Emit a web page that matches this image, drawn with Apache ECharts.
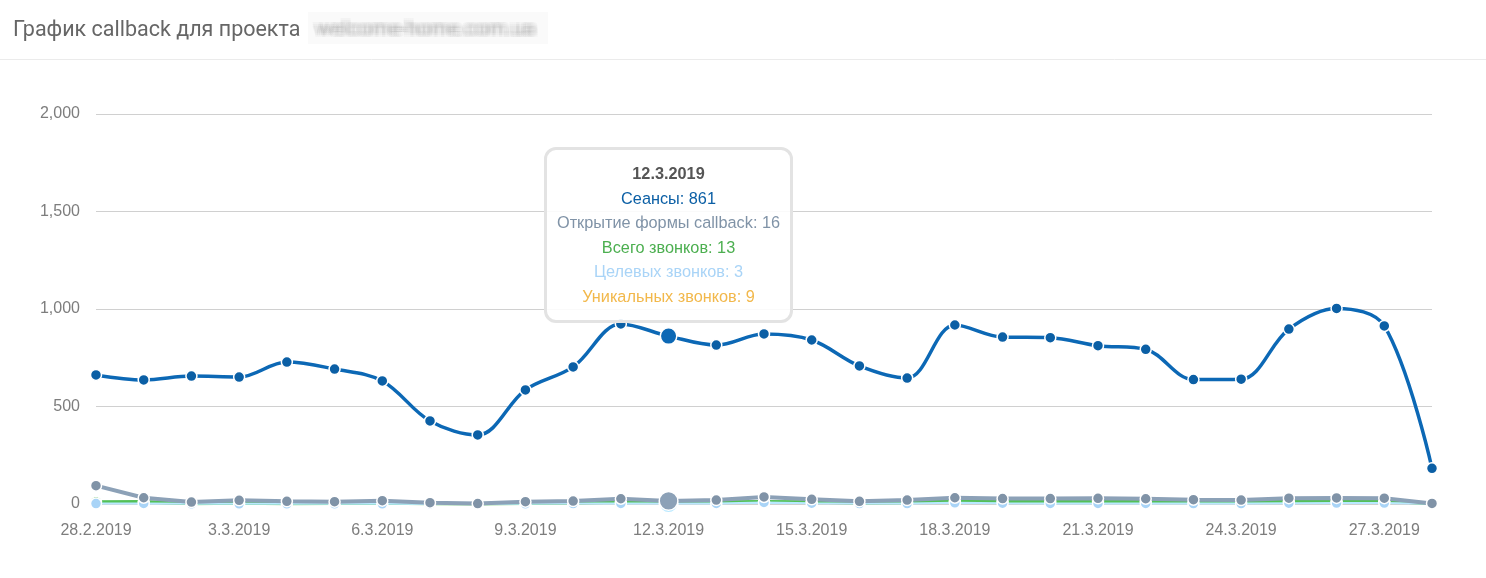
<!DOCTYPE html>
<html>
<head>
<meta charset="utf-8">
<script src="https://cdn.jsdelivr.net/npm/echarts@6/dist/echarts.min.js"></script>
<style>
html,body{margin:0;padding:0;background:#fff;}
#chart{width:1486px;height:578px;}
</style>
</head>
<body>
<div id="chart"></div>
<script>
const categories = ['28.2.2019','1.3.2019','2.3.2019','3.3.2019','4.3.2019','5.3.2019','6.3.2019','7.3.2019','8.3.2019','9.3.2019','10.3.2019','11.3.2019','12.3.2019','13.3.2019','14.3.2019','15.3.2019','16.3.2019','17.3.2019','18.3.2019','19.3.2019','20.3.2019','21.3.2019','22.3.2019','23.3.2019','24.3.2019','25.3.2019','26.3.2019','27.3.2019','28.3.2019'];
const sessions = [662,636,656,651,728,692,631,426,354,585,703,923,861,815,872,841,708,646,918,856,853,812,793,638,640,897,1003,913,183];
const formOpens = [94,32,10,19,14,12,17,7,2,12,15,27,16,20,36,24,14,20,32,28,28,29,27,22,20,30,31,30,3];
const totalCalls = [10,12,3,5,3,4,5,2,1,4,6,10,13,10,12,10,6,8,15,17,17,16,15,12,9,14,16,16,2];
const targetCalls = [2,3,1,1,1,1,1,0,0,1,2,3,3,3,8,4,2,2,6,4,3,3,3,2,2,4,5,5,1];
const uniqueCalls = [8,9,2,4,2,3,4,1,1,3,5,8,9,8,11,8,5,6,11,12,11,11,10,8,6,9,11,11,2];
const yTicks = [0,500,1000,1500,2000];
const titleMain = 'График callback для проекта';
const titleBlur = 'welcome-home.com.ua';

const C = {
  sessions:'#0b5fa5', forms:'#8093a7', total:'#4caf50', target:'#a9d4f7', unique:'#f2b84b'
};

const chart = echarts.init(document.getElementById('chart'), null, {renderer:'canvas'});

function smallSeries(name, data, color, z, lineWidth){
  return {
    name, type:'line', data, z,
    symbol:'circle', symbolSize:11, showSymbol:true,
    lineStyle:{color, width:lineWidth},
    itemStyle:{color, borderColor:'#fff', borderWidth:1.5},
    areaStyle:{color, opacity:0.95},
    emphasis:{scale:1.7, lineStyle:{width:lineWidth}},
    animation:false
  };
}

// soft "blurred" domain text built from several faint, slightly shifted copies
const blurGraphics = [{
  type:'rect', silent:true, z:-1,
  shape:{x:308, y:12, width:240, height:32},
  style:{fill:'rgba(250,250,250,1)'}
}];
[-4,-2,0,2,4].forEach(dx=>{
  [-2,0,2].forEach(dy=>{
    blurGraphics.push({
      type:'text', silent:true, x:316 + dx, y:30 + dy,
      style:{
        text:titleBlur, font:'21px Roboto', fill:'rgba(165,165,165,0.08)',
        verticalAlign:'middle', textVerticalAlign:'middle',
        shadowColor:'rgba(170,170,170,0.6)', shadowBlur:10
      }
    });
  });
});

chart.setOption({
  animation:false,
  title:{
    left:8, top:15,
    text:titleMain,
    textStyle:{fontFamily:'Roboto', fontSize:21.5, fontWeight:'normal', color:'#666'}
  },
  graphic:[
    {
      type:'line', shape:{x1:0, y1:59.5, x2:1486, y2:59.5},
      style:{stroke:'#ebebeb', lineWidth:1}, silent:true
    }
  ].concat(blurGraphics),
  grid:{left:96, right:54, top:114, bottom:74, containLabel:false},
  tooltip:{
    trigger:'axis',
    axisPointer:{type:'line', lineStyle:{opacity:0}},
    backgroundColor:'rgba(255,255,255,0.88)',
    borderColor:'#e3e3e3', borderWidth:3, borderRadius:12,
    padding:[11,10,11,10],
    extraCssText:'box-shadow:none;',
    textStyle:{fontFamily:'Liberation Sans, Arial', fontSize:16},
    position:function(point, params, dom, rect, size){
      return [point[0] - size.contentSize[0]/2, 147];
    },
    formatter:function(params){
      let html = '<div style="text-align:center;line-height:24.6px;font-family:\'Liberation Sans\',Arial;font-size:16.3px;">';
      html += '<div style="font-weight:bold;color:#555;">' + params[0].axisValue + '</div>';
      params.forEach(p=>{
        html += '<div style="color:' + p.color + ';">' + p.seriesName + ': ' + p.value + '</div>';
      });
      html += '</div>';
      return html;
    }
  },
  xAxis:{
    type:'category', data:categories, boundaryGap:false,
    axisLine:{show:false}, axisTick:{show:false},
    axisLabel:{interval:2, color:'#7d7d7d', fontFamily:'Liberation Sans, Arial', fontSize:16, margin:19},
    splitLine:{show:false}
  },
  yAxis:{
    type:'value', min:yTicks[0], max:yTicks[yTicks.length-1], interval:yTicks[1]-yTicks[0],
    axisLine:{show:false}, axisTick:{show:false},
    axisLabel:{color:'#7d7d7d', fontFamily:'Liberation Sans, Arial', fontSize:16, margin:16,
      formatter:v=>v.toLocaleString('en-US')},
    splitLine:{lineStyle:{color:'#d0d0d0', width:1}}
  },
  series:[
    {
      name:'Сеансы', type:'line', data:sessions, z:10,
      smooth:0.35, symbol:'circle', symbolSize:11,
      lineStyle:{color:C.sessions, width:3.5},
      itemStyle:{color:C.sessions, borderColor:'#fff', borderWidth:1.5},
      emphasis:{scale:1.5, lineStyle:{width:3.5}}
    },
    {
      name:'Открытие формы callback', type:'line', data:formOpens, z:8,
      symbol:'circle', symbolSize:11,
      lineStyle:{color:C.forms, width:4},
      itemStyle:{color:C.forms, borderColor:'#fff', borderWidth:1.5},
      emphasis:{scale:1.7, lineStyle:{width:4}}
    },
    smallSeries('Всего звонков', totalCalls, C.total, 4, 3.5),
    smallSeries('Целевых звонков', targetCalls, C.target, 5, 2),
    smallSeries('Уникальных звонков', uniqueCalls, C.unique, 3, 2)
  ]
});

chart.dispatchAction({type:'showTip', seriesIndex:0, dataIndex:12});
</script>
</body>
</html>
